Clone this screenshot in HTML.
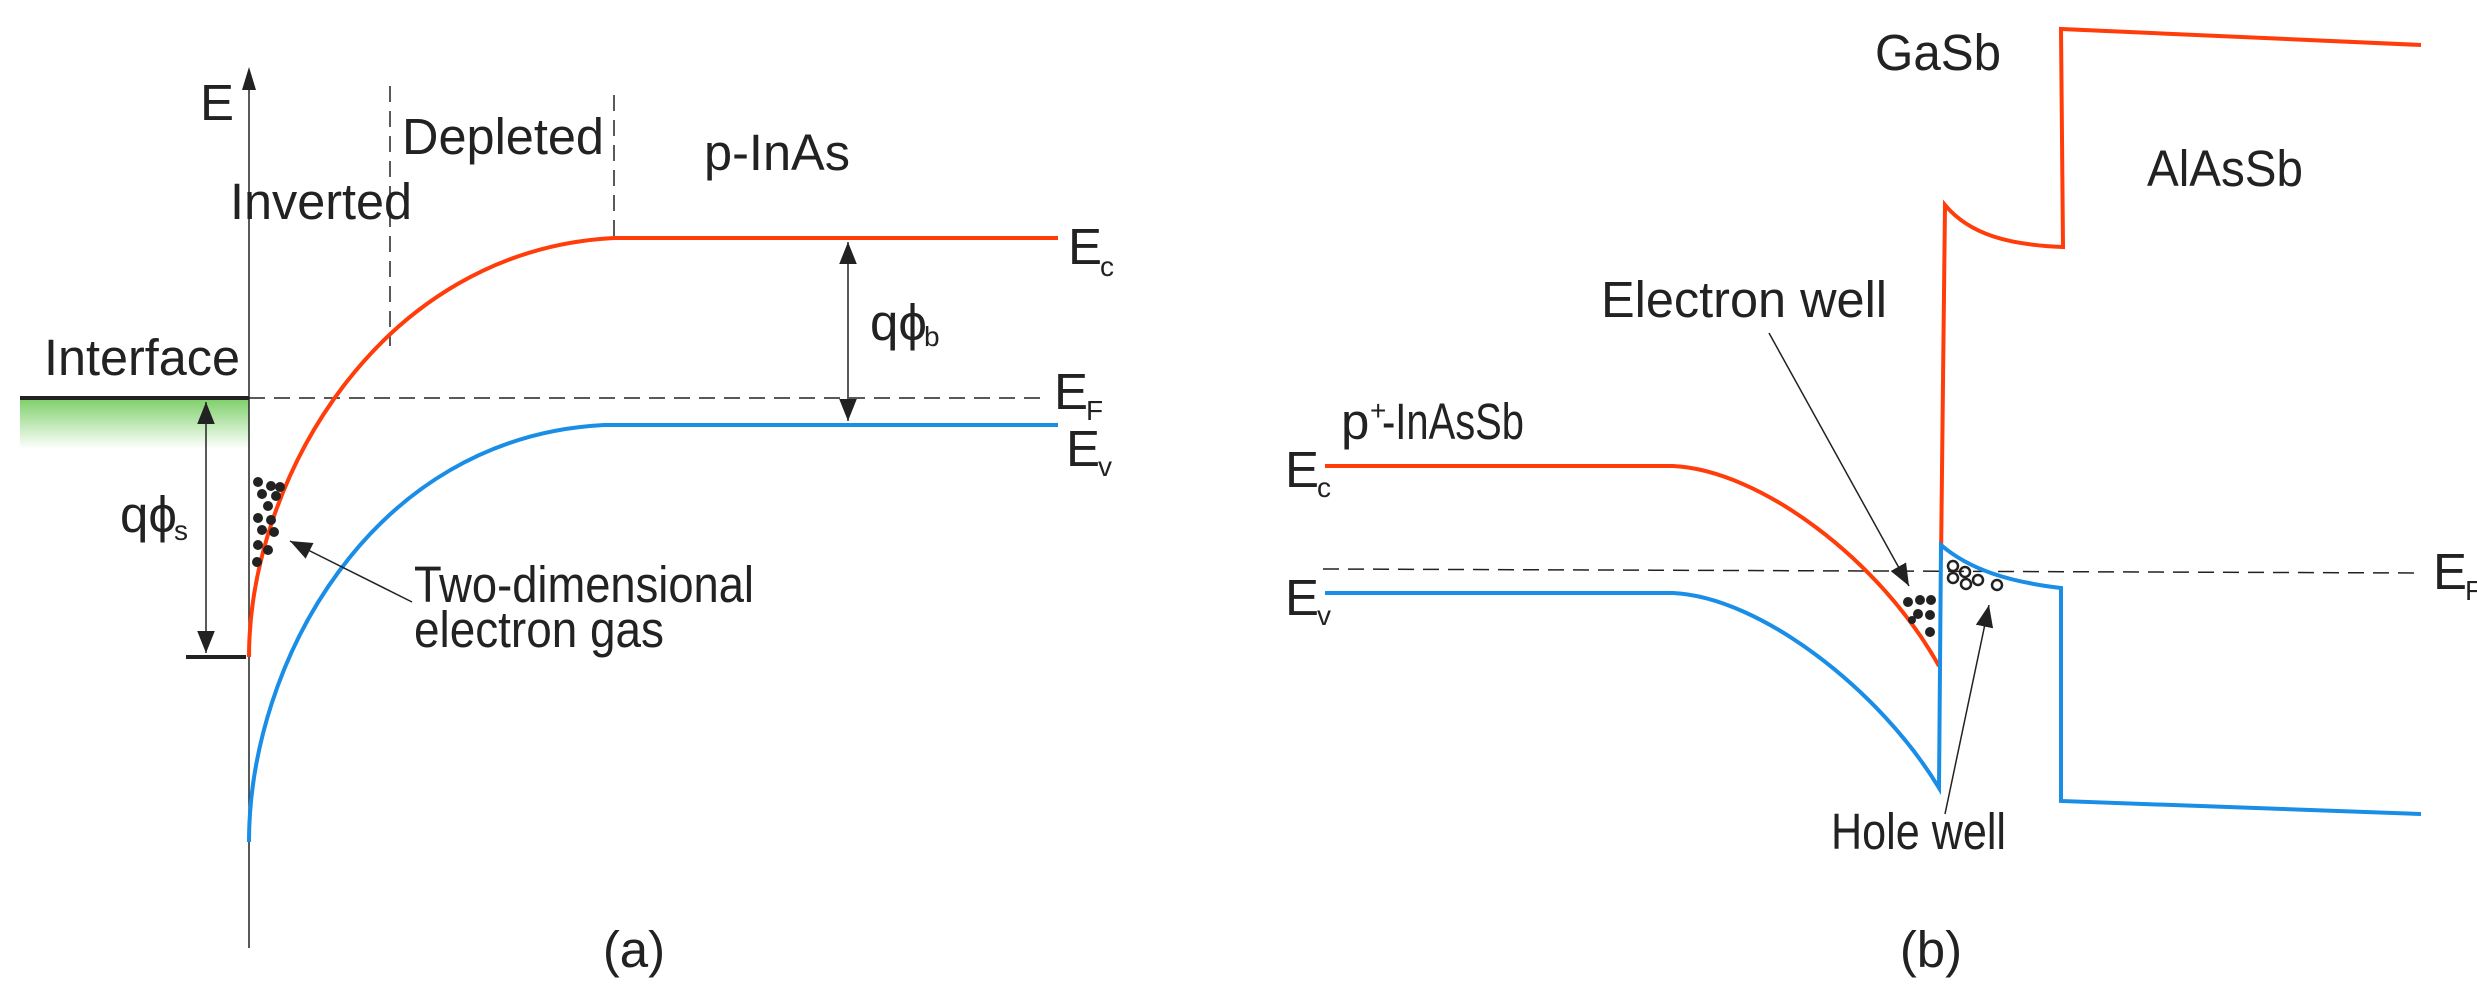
<!DOCTYPE html>
<html><head><meta charset="utf-8"><style>
html,body{margin:0;padding:0;background:#fff}
svg{display:block}
text{font-family:"Liberation Sans",Arial,sans-serif;fill:#222;font-size:51px}
.s{font-size:28px}
</style></head><body>
<svg width="2477" height="993" viewBox="0 0 2477 993" xmlns="http://www.w3.org/2000/svg">
<defs>
<linearGradient id="g" x1="0" y1="0" x2="0" y2="1">
<stop offset="0" stop-color="#7fd06a"/><stop offset="1" stop-color="#ffffff"/>
</linearGradient>
<marker id="ah2" viewBox="0 0 10 10" refX="10" refY="5" markerWidth="22" markerHeight="22" markerUnits="userSpaceOnUse" orient="auto-start-reverse">
<path d="M0,1 L10,5 L0,9 z" fill="#222"/></marker>
</defs>

<!-- Panel a -->
<rect x="20" y="399" width="229" height="50" fill="url(#g)"/>
<line x1="249" y1="948" x2="249" y2="84" stroke="#222" stroke-width="1.5"/>
<path d="M242,90 L249,67 L256,90 z" fill="#222"/>
<text x="200" y="120">E</text>
<line x1="390" y1="86" x2="390" y2="346" stroke="#222" stroke-width="1.5" stroke-dasharray="16,9"/>
<line x1="614" y1="95" x2="614" y2="238" stroke="#222" stroke-width="1.5" stroke-dasharray="16,9"/>
<text x="402" y="154" textLength="202" lengthAdjust="spacingAndGlyphs">Depleted</text>
<text x="704" y="170" textLength="146" lengthAdjust="spacingAndGlyphs">p-InAs</text>
<text x="230" y="219" textLength="182" lengthAdjust="spacingAndGlyphs">Inverted</text>
<text x="44" y="375" textLength="196" lengthAdjust="spacingAndGlyphs">Interface</text>
<line x1="20" y1="398" x2="249" y2="398" stroke="#222" stroke-width="4"/>
<line x1="249" y1="398" x2="1044" y2="398" stroke="#222" stroke-width="1.5" stroke-dasharray="16,9"/>
<path d="M249,657 C249,480 380,250 614,238 L1058,238" fill="none" stroke="#ff3c0a" stroke-width="4"/>
<path d="M249,842 C249,665 370,437 604,425 L1058,425" fill="none" stroke="#1a8ee6" stroke-width="4"/>
<text x="1068" y="264">E</text><text class="s" x="1100" y="276">c</text>
<text x="1054" y="409">E</text><text class="s" x="1086" y="420">F</text>
<text x="1066" y="466">E</text><text class="s" x="1098" y="476">v</text>
<line x1="206" y1="402" x2="206" y2="653" stroke="#222" stroke-width="1.5" marker-start="url(#ah2)" marker-end="url(#ah2)"/>
<line x1="186" y1="657" x2="246" y2="657" stroke="#222" stroke-width="4"/>
<text x="120" y="532">qϕ</text><text class="s" x="174" y="540">s</text>
<line x1="848" y1="242" x2="848" y2="421" stroke="#222" stroke-width="1.5" marker-start="url(#ah2)" marker-end="url(#ah2)"/>
<text x="870" y="340">qϕ</text><text class="s" x="924" y="346">b</text>
<g fill="#222">
<circle cx="258" cy="482" r="5"/><circle cx="271" cy="486" r="5"/><circle cx="280" cy="487" r="5"/>
<circle cx="262" cy="494" r="5"/><circle cx="276" cy="496" r="5"/>
<circle cx="268" cy="506" r="5"/><circle cx="258" cy="518" r="5"/><circle cx="271" cy="520" r="5"/>
<circle cx="262" cy="530" r="5"/><circle cx="274" cy="532" r="5"/><circle cx="258" cy="545" r="5"/>
<circle cx="257" cy="562" r="5"/><circle cx="268" cy="550" r="5"/>
</g>
<line x1="412" y1="602" x2="290" y2="541" stroke="#222" stroke-width="1.5" marker-end="url(#ah2)"/>
<text x="414" y="602" textLength="340" lengthAdjust="spacingAndGlyphs">Two-dimensional</text>
<text x="414" y="647" textLength="250" lengthAdjust="spacingAndGlyphs">electron gas</text>
<text x="634" y="967" text-anchor="middle">(a)</text>

<!-- Panel b -->
<line x1="1323" y1="569" x2="2421" y2="573" stroke="#222" stroke-width="1.5" stroke-dasharray="16,9"/>
<path d="M1325,466 L1673,466 C1760,470 1880,560 1939,666" fill="none" stroke="#ff3c0a" stroke-width="4"/>
<path d="M1941,560 L1945,205 C1970,235 2010,245 2063,247 L2061,29 L2421,45" fill="none" stroke="#ff3c0a" stroke-width="4"/>
<path d="M1325,593 L1673,593 C1760,597 1880,690 1939,788 L1941,545 C1970,570 2010,582 2061,588 L2061,801 L2421,814" fill="none" stroke="#1a8ee6" stroke-width="4"/>
<text x="1875" y="70" textLength="126" lengthAdjust="spacingAndGlyphs">GaSb</text>
<text x="2147" y="186" textLength="156" lengthAdjust="spacingAndGlyphs">AlAsSb</text>
<text x="1601" y="317" textLength="286" lengthAdjust="spacingAndGlyphs">Electron well</text>
<text x="1341" y="439">p</text><text class="s" x="1370" y="420">+</text><text x="1382" y="439" textLength="142" lengthAdjust="spacingAndGlyphs">-InAsSb</text>
<text x="1285" y="487">E</text><text class="s" x="1317" y="497">c</text>
<text x="1285" y="615">E</text><text class="s" x="1317" y="625">v</text>
<text x="2433" y="589">E</text><text class="s" x="2465" y="600">F</text>
<line x1="1769" y1="333" x2="1909" y2="586" stroke="#222" stroke-width="1.5" marker-end="url(#ah2)"/>
<line x1="1945" y1="814" x2="1989" y2="605" stroke="#222" stroke-width="1.5" marker-end="url(#ah2)"/>
<text x="1831" y="849" textLength="175" lengthAdjust="spacingAndGlyphs">Hole well</text>
<g fill="#222">
<circle cx="1908" cy="602" r="5"/><circle cx="1920" cy="600" r="5"/><circle cx="1931" cy="600" r="5"/>
<circle cx="1918" cy="614" r="5"/><circle cx="1930" cy="615" r="5"/>
<circle cx="1912" cy="620" r="4"/><circle cx="1930" cy="632" r="5"/>
</g>
<g fill="none" stroke="#222" stroke-width="2.5">
<circle cx="1953" cy="566" r="5"/><circle cx="1953" cy="578" r="5"/><circle cx="1965" cy="572" r="5"/>
<circle cx="1966" cy="584" r="5"/><circle cx="1978" cy="580" r="5"/><circle cx="1997" cy="585" r="5"/>
</g>
<text x="1931" y="967" text-anchor="middle">(b)</text>
</svg>
</body></html>
